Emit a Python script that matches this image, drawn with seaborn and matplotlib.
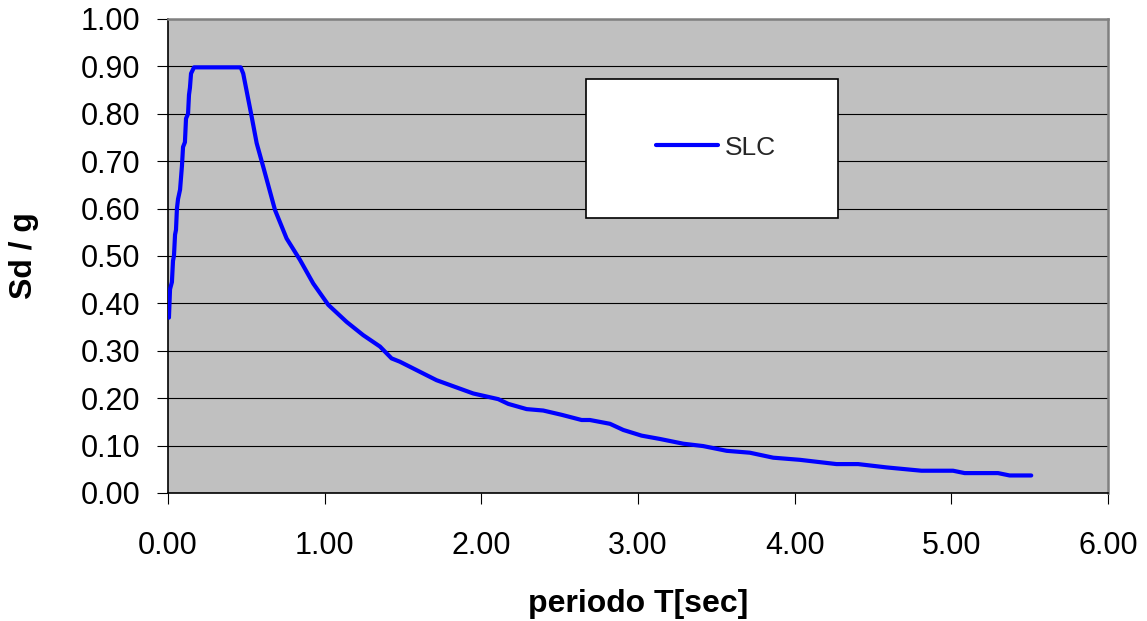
import matplotlib
matplotlib.use("Agg")
import matplotlib.pyplot as plt
import seaborn as sns
import pandas as pd
from matplotlib.patches import Rectangle
from matplotlib.ticker import FormatStrFormatter, MultipleLocator

# ---- data ----
periodo_T = [0.006, 0.013, 0.025, 0.032, 0.038, 0.045, 0.051, 0.057, 0.064, 0.077,
             0.089, 0.096, 0.108, 0.115, 0.128, 0.134, 0.140, 0.147, 0.166, 0.464,
             0.480, 0.534, 0.566, 0.608, 0.683, 0.757, 0.842, 0.927, 1.023, 1.140,
             1.246, 1.353, 1.427, 1.480, 1.714, 1.948, 2.108, 2.172, 2.289, 2.395,
             2.512, 2.640, 2.693, 2.821, 2.906, 3.023, 3.140, 3.289, 3.416, 3.566,
             3.714, 3.863, 4.033, 4.267, 4.405, 4.586, 4.809, 5.011, 5.085, 5.298,
             5.372, 5.510]
sd_g = [0.370, 0.430, 0.445, 0.490, 0.500, 0.545, 0.555, 0.600, 0.620, 0.640,
        0.690, 0.730, 0.740, 0.790, 0.800, 0.840, 0.855, 0.885, 0.898, 0.898,
        0.885, 0.794, 0.738, 0.688, 0.597, 0.537, 0.492, 0.442, 0.397, 0.361,
        0.333, 0.309, 0.284, 0.277, 0.238, 0.210, 0.198, 0.188, 0.177, 0.174,
        0.165, 0.154, 0.154, 0.146, 0.133, 0.121, 0.114, 0.104, 0.099, 0.089,
        0.085, 0.0745, 0.070, 0.061, 0.061, 0.054, 0.047, 0.047, 0.042, 0.042,
        0.037, 0.037]
series_name = "SLC"
x_label = "periodo T[sec]"
y_label = "Sd / g"

df = pd.DataFrame({"T": periodo_T, "Sd": sd_g})

sns.set_theme(style="white")
plt.rcParams["font.family"] = ["Liberation Sans", "DejaVu Sans"]

fig = plt.figure(figsize=(11.47, 6.21), dpi=100)
ax = fig.add_axes([168 / 1147, 1 - 493 / 621, 940 / 1147, 474 / 621])
ax.set_facecolor("#C0C0C0")

sns.lineplot(data=df, x="T", y="Sd", sort=False, estimator=None, ax=ax,
             color="#0000FF", linewidth=3, label=series_name, zorder=3)

ax.set_xlim(0, 6)
ax.set_ylim(0, 1)
ax.xaxis.set_major_locator(MultipleLocator(1))
ax.yaxis.set_major_locator(MultipleLocator(0.1))
ax.xaxis.set_major_formatter(FormatStrFormatter("%.2f"))
ax.yaxis.set_major_formatter(FormatStrFormatter("%.2f"))

ax.yaxis.grid(True, color="black", linewidth=0.8)
ax.xaxis.grid(False)
ax.set_axisbelow(True)

ax.tick_params(axis="both", which="major", direction="out", length=8, width=0.8,
               color="black", labelsize=22, labelcolor="black")
ax.tick_params(axis="x", pad=19, bottom=True)
ax.tick_params(axis="y", pad=12, left=True)

for side in ("left", "bottom"):
    ax.spines[side].set_color("black")
    ax.spines[side].set_linewidth(1.2)
for side in ("top", "right"):
    ax.spines[side].set_color("#808080")
    ax.spines[side].set_linewidth(1.8)

ax.set_xlabel(x_label, fontsize=23, fontweight="bold", color="black")
ax.set_ylabel(y_label, fontsize=23, fontweight="bold", color="black")
ax.xaxis.set_label_coords(0.5, -0.203)
ax.yaxis.set_label_coords(-0.137, 0.5)

# legend box
box = Rectangle((0.4447, 0.5802), 0.7128 - 0.4447, 0.8734 - 0.5802,
                transform=ax.transAxes, facecolor="white", edgecolor="black",
                linewidth=1.2, zorder=4)
ax.add_patch(box)
leg = ax.legend(loc="center", bbox_to_anchor=(0.583, 0.7285), frameon=False,
                fontsize=19, handlelength=2.35, handletextpad=0.25,
                borderpad=0, borderaxespad=0)
leg.set_zorder(5)

fig.savefig("out.png", dpi=100, facecolor="white")
